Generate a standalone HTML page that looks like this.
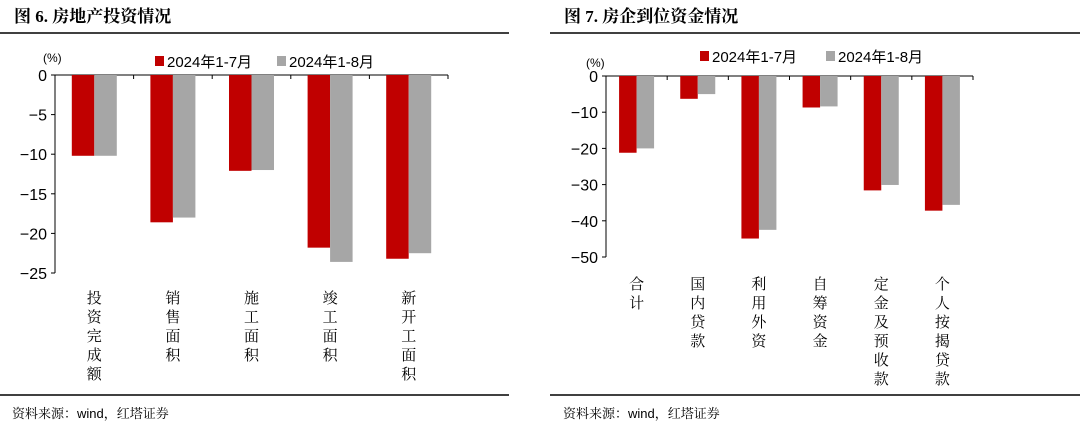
<!DOCTYPE html>
<html><head><meta charset="utf-8"><style>
body{margin:0;background:#fff;}
svg text{font-family:"Liberation Sans","Noto Sans CJK SC",sans-serif;}
.serif{font-family:"Liberation Serif","Noto Serif CJK SC",serif !important;}
</style></head><body>
<svg id="c" width="1080" height="422" viewBox="0 0 1080 422" xmlns="http://www.w3.org/2000/svg">
<text x="14" y="22" font-size="17" font-weight="bold" class="serif">图 6. 房地产投资情况</text>
<line x1="0" y1="33" x2="509" y2="33" stroke="#000" stroke-width="1.5"/>
<text x="564" y="22" font-size="17" font-weight="bold" class="serif">图 7. 房企到位资金情况</text>
<line x1="550" y1="33" x2="1080" y2="33" stroke="#000" stroke-width="1.5"/>
<line x1="0" y1="395" x2="509" y2="395" stroke="#000" stroke-width="1.5"/>
<line x1="550" y1="395" x2="1080" y2="395" stroke="#000" stroke-width="1.5"/>
<text x="12" y="418" font-size="13" class="serif">资料来源：<tspan font-family="Liberation Sans">wind</tspan>，红塔证券</text>
<text x="563" y="418" font-size="13" class="serif">资料来源：<tspan font-family="Liberation Sans">wind</tspan>，红塔证券</text>
<g id="L"></g><g id="R"></g>
</svg>
<script>
const leftCats=["投资完成额","销售面积","施工面积","竣工面积","新开工面积"];
const leftJul=[-10.2,-18.6,-12.1,-21.8,-23.2];
const leftAug=[-10.2,-18.0,-12.0,-23.6,-22.5];
const leftTicks=[0,-5,-10,-15,-20,-25];
const rightCats=["合计","国内贷款","利用外资","自筹资金","定金及预收款","个人按揭贷款"];
const rightJul=[-21.2,-6.3,-44.9,-8.7,-31.6,-37.2];
const rightAug=[-20.0,-5.0,-42.5,-8.4,-30.1,-35.6];
const rightTicks=[0,-10,-20,-30,-40,-50];
const NS="http://www.w3.org/2000/svg";
function mk(p,t,a){const e=document.createElementNS(NS,t);for(const k in a)e.setAttribute(k,a[k]);p.appendChild(e);return e;}
function chart(g,o){
  const {cats,s1,s2,ticks,x0,x1,y0,y1,min,bw,pct,leg}=o;
  const y=v=>y0+(v/min)*(y1-y0);
  const cw=(x1-x0)/cats.length;
  const ax=mk(g,'line',{x1:x0,y1:y0,x2:x0,y2:y1,stroke:'#000','stroke-width':1});
  
  const xa=mk(g,'line',{x1:x0,y1:y0,x2:x1,y2:y0,stroke:'#000','stroke-width':1});
  
  ticks.forEach(t=>{
    const tk=mk(g,'line',{x1:x0-4,y1:y(t),x2:x0,y2:y(t),stroke:'#000'});
    
    const tl=mk(g,'text',{x:x0-8,y:y(t)+6,'font-size':16,'text-anchor':'end'});
    tl.textContent=t===0?'0':'−'+Math.abs(t);
    
  });
  for(let i=0;i<=cats.length;i++){
    const tk=mk(g,'line',{x1:x0+i*cw,y1:y0,x2:x0+i*cw,y2:y0+4,stroke:'#000'});
    
  }
  cats.forEach((c,i)=>{
    const cx=x0+(i+0.5)*cw;
    const r=mk(g,'rect',{x:cx-bw,y:y0,width:bw,height:y(s1[i])-y0,fill:'#c00000'});
    
    const b=mk(g,'rect',{x:cx,y:y0,width:bw,height:y(s2[i])-y0,fill:'#a6a6a6'});
    
    const tx=mk(g,'text',{'font-size':15,'text-anchor':'middle',class:'serif'});
    
    [...c].forEach((ch,j)=>{const ts=mk(tx,'tspan',{x:cx,y:o.ly+j*19});ts.textContent=ch;});
  });
  const p=mk(g,'text',{x:pct[0],y:pct[1],'font-size':12});p.textContent='(%)';
  
  [['#c00000','2024年1-7月',leg[0]],['#a6a6a6','2024年1-8月',leg[1]]].forEach(([col,t,lx],k)=>{
    const sq=mk(g,'rect',{x:lx,y:leg[2]-11,width:9,height:10,fill:col});
    
    const lt=mk(g,'text',{x:lx+12,y:leg[2],'font-size':15});lt.textContent=t;
    
  });
}
chart(document.getElementById('L'),{cats:leftCats,s1:leftJul,s2:leftAug,ticks:leftTicks,x0:55,x1:448,y0:75,y1:273,min:-25,bw:22.5,ly:303,pct:[43,62],leg:[155,277,67]});
chart(document.getElementById('R'),{cats:rightCats,s1:rightJul,s2:rightAug,ticks:rightTicks,x0:606,x1:973,y0:76,y1:257,min:-50,bw:17.5,ly:289,pct:[586,67],leg:[700,826,62]});
</script>
</body></html>
